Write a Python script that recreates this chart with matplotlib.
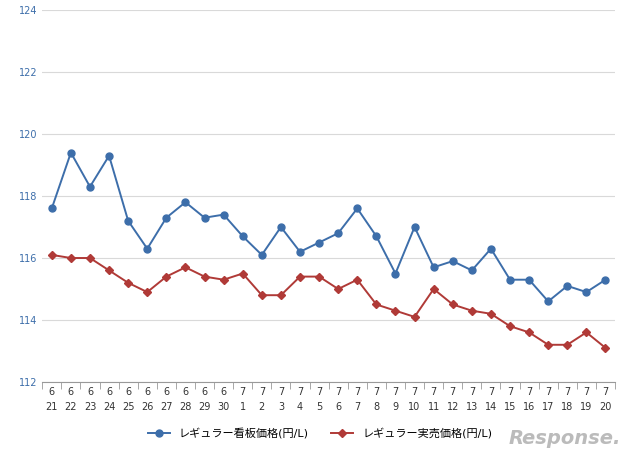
import matplotlib.pyplot as plt
import numpy as np

months = [6] * 10 + [7] * 20
days = list(range(21, 31)) + list(range(1, 21))
kanban = [117.6, 119.4, 118.3, 119.3, 117.2, 116.3, 117.3, 117.8, 117.3, 117.4,
          116.7, 116.1, 117.0, 116.2, 116.5, 116.8, 117.6, 116.7, 115.5, 117.0,
          115.7, 115.9, 115.6, 116.3, 115.3, 115.3, 114.6, 115.1, 114.9, 115.3]
jitsubai = [116.1, 116.0, 116.0, 115.6, 115.2, 114.9, 115.4, 115.7, 115.4, 115.3,
            115.5, 114.8, 114.8, 115.4, 115.4, 115.0, 115.3, 114.5, 114.3, 114.1,
            115.0, 114.5, 114.3, 114.2, 113.8, 113.6, 113.2, 113.2, 113.6, 113.1]
labels = [f"{m}\n{d}" for m, d in zip(months, days)]

plt.rcParams['font.family'] = ['DejaVu Sans', 'Noto Sans CJK JP']
fig = plt.figure(figsize=(6.4, 4.58), dpi=100)
ax = fig.add_axes([0.066, 0.166, 0.895, 0.812])

x = np.arange(len(labels))
ax.plot(x, kanban, color='#3d6eaa', marker='o', ms=5, lw=1.4, label='レギュラー看板価格(円/L)')
ax.plot(x, jitsubai, color='#b03a37', marker='D', ms=4, lw=1.4, label='レギュラー実売価格(円/L)')

ax.set_xlim(-0.5, len(labels) - 0.5)
ax.set_ylim(112, 124)
ax.set_yticks(range(112, 125, 2))
ax.grid(axis='y', color='#d9d9d9', lw=0.8)
ax.set_axisbelow(True)
ax.set_xticks(x)
ax.set_xticklabels(labels, fontsize=7, color='#333333', linespacing=1.6)
ax.set_xticks(np.arange(-0.5, len(labels), 1), minor=True)
ax.tick_params(axis='x', which='major', length=0)
ax.tick_params(axis='x', which='minor', length=5, color='#999999')
ax.tick_params(axis='y', length=0, labelsize=7, labelcolor='#3d6eaa')
for s in ['top', 'right', 'left']:
    ax.spines[s].set_visible(False)
ax.spines['bottom'].set_color('#999999')

fig.legend(loc='lower center', bbox_to_anchor=(0.5, 0.02), ncol=2, frameon=False, fontsize=8,
           handlelength=2, columnspacing=2)
fig.text(0.97, 0.03, 'Response.', ha='right', fontsize=14, color='#bbbbbb', style='italic', weight='bold')
fig.savefig('out.png')
